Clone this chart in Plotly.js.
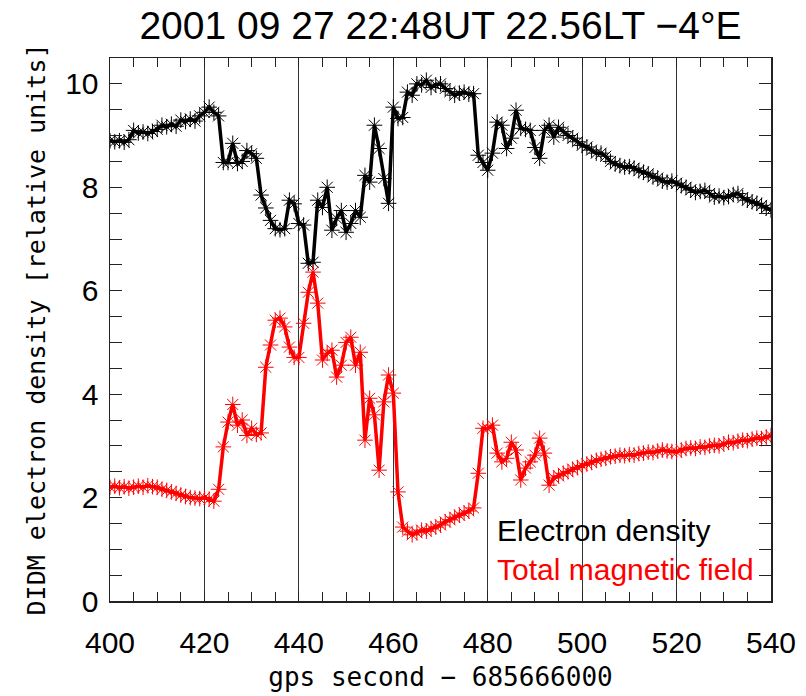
<!DOCTYPE html>
<html>
<head>
<meta charset="utf-8">
<script src="https://cdn.plot.ly/plotly-3.0.1.min.js"></script>
<style>html,body{margin:0;padding:0;background:#fff;}#chart{width:806px;height:696px;}</style>
</head>
<body>
<div id="chart"></div>
<script>
// gps second offsets (x values), one sample per second
const seconds = [
400,401,402,403,404,405,406,407,408,409,410,411,412,413,414,415,416,417,418,419,
420,421,422,423,424,425,426,427,428,429,430,431,432,433,434,435,436,437,438,439,
440,441,442,443,444,445,446,447,448,449,450,451,452,453,454,455,456,457,458,459,
460,461,462,463,464,465,466,467,468,469,470,471,472,473,474,475,476,477,478,479,
480,481,482,483,484,485,486,487,488,489,490,491,492,493,494,495,496,497,498,499,
500,501,502,503,504,505,506,507,508,509,510,511,512,513,514,515,516,517,518,519,
520,521,522,523,524,525,526,527,528,529,530,531,532,533,534,535,536,537,538,539,
540];

// DIDM electron density (relative units)
const electronDensity = [
8.90,8.88,8.90,8.87,8.92,9.10,9.05,9.07,9.04,9.08,9.12,9.20,9.17,9.22,9.18,9.30,9.27,9.32,9.28,9.38,
9.45,9.55,9.45,9.38,8.48,8.48,8.85,8.46,8.50,8.71,8.65,8.56,7.85,7.60,7.36,7.20,7.18,7.20,7.75,7.68,
7.30,7.27,6.53,6.55,7.75,7.61,8.00,7.17,7.40,7.55,7.13,7.30,7.55,7.42,8.23,8.10,9.20,8.75,8.17,7.69,
9.55,9.33,9.35,9.84,9.78,10.00,9.98,10.07,9.93,9.98,10.00,9.91,9.85,9.78,9.82,9.84,9.80,9.81,8.62,8.48,
8.33,8.66,9.26,9.20,8.75,8.95,9.49,9.14,9.12,9.10,8.77,8.56,9.10,9.20,8.97,9.16,9.08,9.00,8.95,8.88,
8.81,8.78,8.72,8.66,8.66,8.60,8.50,8.45,8.42,8.39,8.40,8.37,8.32,8.29,8.26,8.20,8.18,8.12,8.10,8.12,
8.08,8.03,8.00,7.95,7.90,7.92,7.94,7.88,7.81,7.83,7.80,7.82,7.86,7.88,7.80,7.75,7.72,7.69,7.65,7.60,
7.56];

// Total magnetic field (relative units)
const magneticField = [
2.20,2.22,2.19,2.21,2.18,2.20,2.22,2.20,2.23,2.21,2.20,2.16,2.14,2.11,2.08,2.05,2.02,2.00,1.99,1.98,
2.00,1.97,1.93,2.16,2.98,3.46,3.80,3.40,3.50,3.20,3.34,3.22,3.25,4.52,4.95,5.43,5.47,5.30,4.91,4.71,
4.71,5.37,5.97,6.36,5.76,4.66,4.79,4.85,4.33,4.56,5.00,5.10,4.56,4.81,3.11,3.92,3.60,2.53,3.85,4.37,
4.02,2.11,1.43,1.35,1.28,1.32,1.37,1.35,1.40,1.43,1.47,1.53,1.57,1.62,1.66,1.70,1.74,1.80,2.47,3.34,
3.33,3.40,2.86,2.69,2.76,3.07,2.92,2.34,2.57,2.69,2.82,3.15,2.86,2.24,2.38,2.42,2.47,2.50,2.55,2.58,
2.62,2.65,2.68,2.72,2.74,2.76,2.79,2.80,2.82,2.81,2.83,2.82,2.85,2.86,2.88,2.87,2.90,2.92,2.90,2.89,
2.88,2.92,2.95,2.96,2.95,2.98,2.97,3.00,3.01,3.00,3.04,3.07,3.06,3.09,3.11,3.10,3.13,3.15,3.14,3.17,
3.20];

const xTickVals = [400,420,440,460,480,500,520,540];
const yTickVals = [0,2,4,6,8,10];
const seriesNames = ['Electron density','Total magnetic field'];
const chartTitle = '2001 09 27 22:48UT 22.56LT −4°E';
const xTitle = 'gps second − 685666000';
const yTitle = 'DIDM electron density [relative units]';

const labelFont = 'Liberation Sans, Arial, sans-serif';
const monoFont = 'DejaVu Sans Mono, monospace';

const traces = [
  {
    x: seconds, y: electronDensity, type: 'scatter', mode: 'lines+markers',
    name: seriesNames[0],
    line: {color: '#000000', width: 3.5},
    marker: {symbol: 'asterisk-open', size: 13, color: '#000000', line: {color: '#000000', width: 1}}
  },
  {
    x: seconds, y: magneticField, type: 'scatter', mode: 'lines+markers',
    name: seriesNames[1],
    line: {color: '#ff0000', width: 3.5},
    marker: {symbol: 'asterisk-open', size: 13, color: '#ff0000', line: {color: '#ff0000', width: 1}}
  }
];

const layout = {
  width: 806, height: 696,
  paper_bgcolor: '#ffffff', plot_bgcolor: '#ffffff',
  margin: {l: 110, r: 35, t: 58, b: 95, pad: 0},
  showlegend: false,
  title: {
    text: chartTitle,
    font: {family: labelFont, size: 39, color: '#000'},
    x: 0.5465, xref: 'container', xanchor: 'center',
    y: 0.964, yref: 'container', yanchor: 'middle'
  },
  xaxis: {
    range: [400, 540],
    tickvals: xTickVals,
    ticktext: xTickVals.map(String),
    ticks: 'inside', ticklen: 10, tickwidth: 1, tickcolor: '#222',
    showgrid: true, gridcolor: '#333', gridwidth: 1,
    zeroline: false,
    showline: true, linecolor: '#222', linewidth: 1.5, mirror: 'ticks',
    tickfont: {family: labelFont, size: 30, color: '#000'},
    ticklabelstandoff: 14,
    minor: {dtick: 5, tick0: 400, ticks: 'inside', ticklen: 9, tickwidth: 1, tickcolor: '#222', showgrid: false},
    title: {text: xTitle, font: {family: monoFont, size: 26, color: '#000'}, standoff: 10}
  },
  yaxis: {
    range: [0, 10.5],
    tickvals: yTickVals,
    ticktext: yTickVals.map(String),
    ticks: 'inside', ticklen: 12, tickwidth: 1, tickcolor: '#222',
    showgrid: false, zeroline: false,
    showline: true, linecolor: '#222', linewidth: 1.5, mirror: 'ticks',
    tickfont: {family: labelFont, size: 30, color: '#000'},
    ticklabelstandoff: 4,
    minor: {dtick: 0.5, tick0: 0, ticks: 'inside', ticklen: 12, tickwidth: 1, tickcolor: '#222', showgrid: false},
    title: {text: yTitle, font: {family: monoFont, size: 25, color: '#000'}, standoff: 12}
  },
  annotations: [
    {text: seriesNames[0], x: 481.5, y: 1.37, xref: 'x', yref: 'y', xanchor: 'left', yanchor: 'middle',
     showarrow: false, font: {family: labelFont, size: 30, color: '#000000'}},
    {text: seriesNames[1], x: 481.5, y: 0.6, xref: 'x', yref: 'y', xanchor: 'left', yanchor: 'middle',
     showarrow: false, font: {family: labelFont, size: 30, color: '#ff0000'}}
  ]
};

Plotly.newPlot('chart', traces, layout, {displayModeBar: false, staticPlot: true});
</script>
</body>
</html>
